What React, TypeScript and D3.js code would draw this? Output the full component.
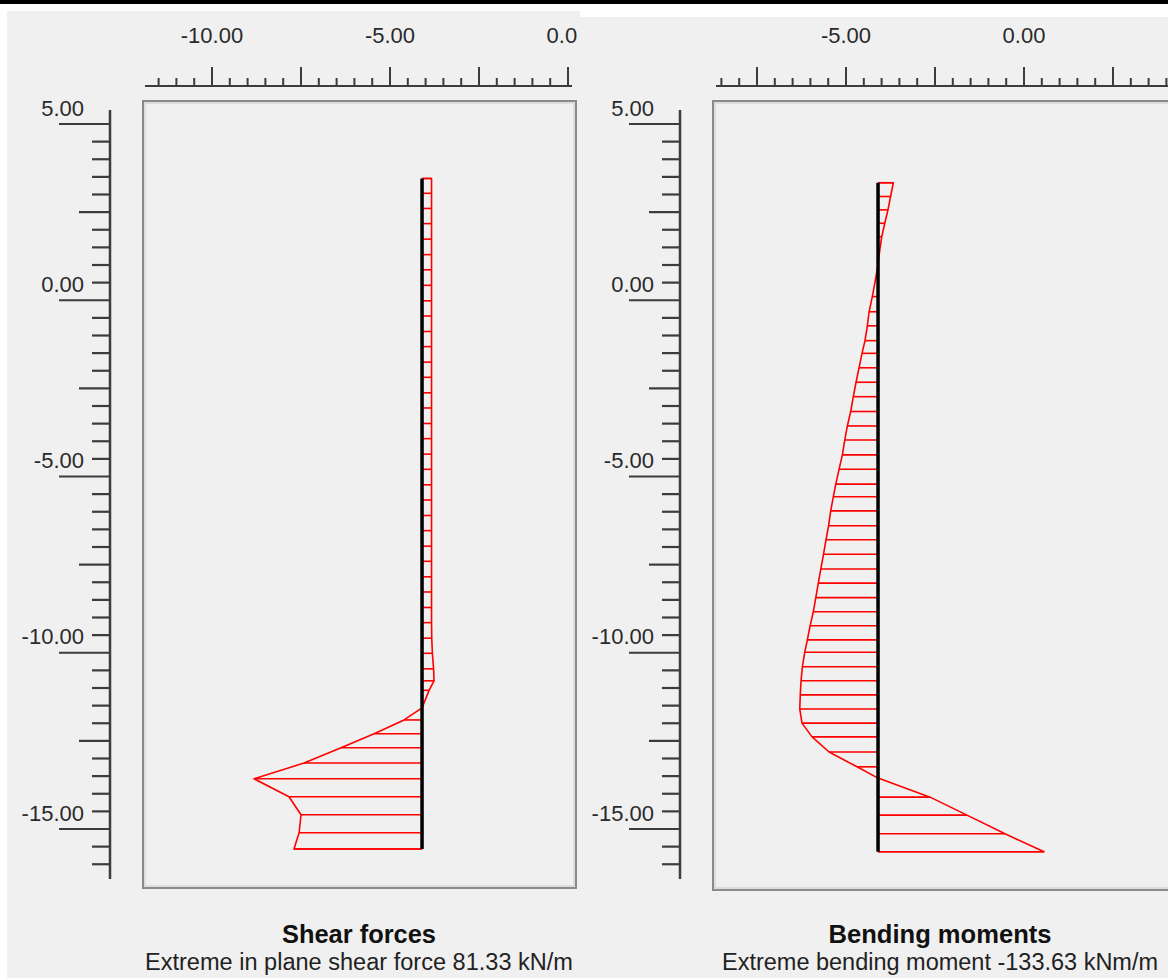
import React from 'react';
import * as d3 from 'd3';

// ---------- data ----------
const yTickLabels = [5, 0, -5, -10, -15];
const shearXLabels = [-10, -5, 0];
const momentXLabels = [-5, 0];

const pileGeomX = -4.1;

const shearDepth = [
  3.0, 2.58, 2.15, 1.72, 1.28, 0.84, 0.41, -0.03, -0.47, -0.9, -1.34, -1.77, -2.21, -2.64,
  -3.08, -3.51, -3.95, -4.38, -4.82, -5.25, -5.69, -6.12, -6.56, -6.99, -7.43, -7.86, -8.3,
  -8.73, -9.17, -9.6, -10.04, -10.47, -10.91, -11.25, -11.52, -12.02, -12.36, -12.75, -13.15,
  -13.58, -14.03, -14.54, -15.05, -15.56, -16.02,
];
const shearForce = [
  -4.6, -4.6, -4.6, -4.6, -4.6, -4.6, -4.6, -4.6, -4.6, -4.6, -4.6, -4.6, -4.6, -4.6,
  -4.6, -4.6, -4.6, -4.6, -4.6, -4.6, -4.6, -4.6, -4.6, -4.6, -4.6, -4.6, -4.6,
  -4.6, -4.6, -4.6, -4.7, -5.0, -5.6, -5.8, -3.4, 0, 8.7, 23.2, 39.2,
  57.1, 81.33, 64.4, 58.6, 59.5, 62.0,
];

const momentDepth = [
  2.88, 2.49, 2.11, 1.73, 1.35, 0.97, 0.57, 0.17, -0.35, -0.78, -1.18, -1.6, -1.96, -2.37,
  -2.78, -3.19, -3.61, -4.02, -4.42, -4.84, -5.25, -5.67, -6.03, -6.43, -6.85, -7.25, -7.66,
  -8.08, -8.48, -8.89, -9.29, -9.69, -10.09, -10.44, -10.85, -11.25, -11.65, -12.05, -12.45,
  -12.84, -13.27, -13.69, -14.01, -14.55, -15.06, -15.59, -16.1,
];
const bendingMoment = [
  -12.3, -10.1, -8.0, -5.4, -3.0, -1.4, 0, 1.9, 4.6, 7.2, 8.6, 10.5, 12.9, 15.3,
  17.7, 19.9, 22.0, 24.7, 26.8, 28.7, 31.4, 34.0, 36.0, 38.1, 39.8, 41.9, 43.9,
  46.1, 48.1, 50.1, 52.1, 54.7, 56.9, 59.0, 60.9, 62.0, 62.6, 63.0, 61.2,
  53.1, 39.4, 16.9, 0, -41.9, -71.6, -102.2, -133.63,
];

const shearExtreme = 81.33;
const momentExtreme = -133.63;

// ---------- layout ----------
const W = 1168;
const H = 978;
const TICK_SHIFT = 16;
const AXIS_COLOR = '#3c3c3c';
const LABEL_COLOR = '#2a2a2a';
const FONT = '"Liberation Sans", Arial, sans-serif';

const yScale = d3.scaleLinear().domain([5, -15]).range([108, 813]);

type PanelProps = {
  dx: number;
  bgY: number;
  bgW: number;
  zeroX: number;
  topAxisRange: [number, number];
  frameRight: number;
  frameBottom: number;
  xLabels: number[];
  depths: number[];
  values: number[];
  valScale: d3.ScaleLinear<number, number>;
  title: string;
  subtitle: string;
  titleLen: number;
  subLen: number;
  subX: number;
};

function Panel(p: PanelProps) {
  const geom = d3.scaleLinear().domain([-5, 0]).range([p.zeroX - 178, p.zeroX]);
  const axisX = 110 + p.dx;
  const frameLeft = 143 + p.dx;
  const pileX = geom(pileGeomX);

  const lo = geom.invert(p.topAxisRange[0]);
  const hi = geom.invert(p.topAxisRange[1]);
  const topTicks = d3.range(Math.ceil(lo * 2) / 2, hi + 1e-6, 0.5);
  const isMult = (v: number, m: number) => Math.abs(v / m - Math.round(v / m)) < 1e-6;

  const yTicks = d3.range(5, -16 - 1e-6, -0.5);

  const pts: [number, number][] = p.depths.map((d, i) => [pileX + p.valScale(p.values[i]), yScale(d)]);
  const outline: [number, number][] = [
    [pileX, yScale(p.depths[0])],
    ...pts,
    [pileX, yScale(p.depths[p.depths.length - 1])],
  ];
  const line = d3.line();

  return (
    <g>
      <rect x={7 + p.dx} y={p.bgY} width={p.bgW} height={H - p.bgY} fill="#f0f0f0" />
      {/* top axis */}
      <line x1={p.topAxisRange[0]} x2={p.topAxisRange[1]} y1={86} y2={86} stroke={AXIS_COLOR} strokeWidth={2} />
      {topTicks.map((v, i) => (
        <line key={'tt' + i} x1={geom(v)} x2={geom(v)} y1={86} y2={isMult(v, 2.5) ? 67 : 78} stroke={AXIS_COLOR} strokeWidth={2} />
      ))}
      {p.xLabels.map((v) => (
        <text key={'xl' + v} x={geom(v)} y={35} fontSize={22} fontFamily={FONT} fill={LABEL_COLOR} textAnchor="middle" dominantBaseline="central">
          {v.toFixed(2)}
        </text>
      ))}
      {/* left axis */}
      <line x1={axisX} x2={axisX} y1={110} y2={879} stroke={AXIS_COLOR} strokeWidth={2.5} />
      {yTicks.map((v, i) => {
        const len = isMult(v, 5) ? 51 : isMult(v, 2.5) ? 31 : 18;
        const y = yScale(v) + TICK_SHIFT;
        return <line key={'yt' + i} x1={axisX - len} x2={axisX} y1={y} y2={y} stroke={AXIS_COLOR} strokeWidth={2.2} />;
      })}
      {yTickLabels.map((v) => (
        <text key={'yl' + v} x={axisX - 26} y={yScale(v)} fontSize={22} fontFamily={FONT} fill={LABEL_COLOR} textAnchor="end" dominantBaseline="central">
          {v.toFixed(2)}
        </text>
      ))}
      {/* frame */}
      <rect x={frameLeft} y={101} width={p.frameRight - frameLeft} height={p.frameBottom - 101} fill="none" stroke="#8a8a8a" strokeWidth={2} />
      <rect x={frameLeft + 2} y={103} width={p.frameRight - frameLeft - 4} height={p.frameBottom - 105} fill="none" stroke="#c9c9c9" strokeWidth={1} />
      {/* diagram */}
      {pts.map(([x, y], i) => (
        <line key={'h' + i} x1={pileX} x2={x} y1={y} y2={y} stroke="#ff0000" strokeWidth={1.6} />
      ))}
      <path d={line(outline) || ''} fill="none" stroke="#ff0000" strokeWidth={1.6} strokeLinejoin="round" />
      <line x1={pileX} x2={pileX} y1={yScale(p.depths[0])} y2={yScale(p.depths[p.depths.length - 1])} stroke="#000" strokeWidth={3.5} />
      {/* captions */}
      <text x={p.subX} y={943} fontSize={26} fontWeight="bold" fontFamily={FONT} fill="#111" textAnchor="middle" textLength={p.titleLen} lengthAdjust="spacingAndGlyphs">
        {p.title}
      </text>
      <text x={p.subX} y={970} fontSize={23} fontFamily={FONT} fill="#222" textAnchor="middle" textLength={p.subLen} lengthAdjust="spacingAndGlyphs">
        {p.subtitle}
      </text>
    </g>
  );
}

export default function App() {
  const shearScale = d3.scaleLinear().domain([0, shearExtreme]).range([0, -168]);
  const momentScale = d3.scaleLinear().domain([0, momentExtreme]).range([0, 166]);
  return (
    <svg width={W} height={H} style={{ position: 'fixed', left: 0, top: 0, background: '#fff' }}>
      <rect x={0} y={0} width={W} height={H} fill="#fff" />
      <Panel
        dx={0}
        bgY={11}
        bgW={573}
        zeroX={568}
        topAxisRange={[145, 572]}
        frameRight={576}
        frameBottom={888}
        xLabels={shearXLabels}
        depths={shearDepth}
        values={shearForce}
        valScale={shearScale}
        title="Shear forces"
        subtitle={`Extreme in plane shear force ${shearExtreme.toFixed(2)} kN/m`}
        titleLen={154}
        subLen={428}
        subX={359}
      />
      <Panel
        dx={570}
        bgY={17}
        bgW={600}
        zeroX={1024}
        topAxisRange={[716, 1170]}
        frameRight={1178}
        frameBottom={890}
        xLabels={momentXLabels}
        depths={momentDepth}
        values={bendingMoment}
        valScale={momentScale}
        title="Bending moments"
        subtitle={`Extreme bending moment ${momentExtreme.toFixed(2)} kNm/m`}
        titleLen={223}
        subLen={436}
        subX={940}
      />
      <rect x={0} y={0} width={W} height={4} fill="#000" />
    </svg>
  );
}
